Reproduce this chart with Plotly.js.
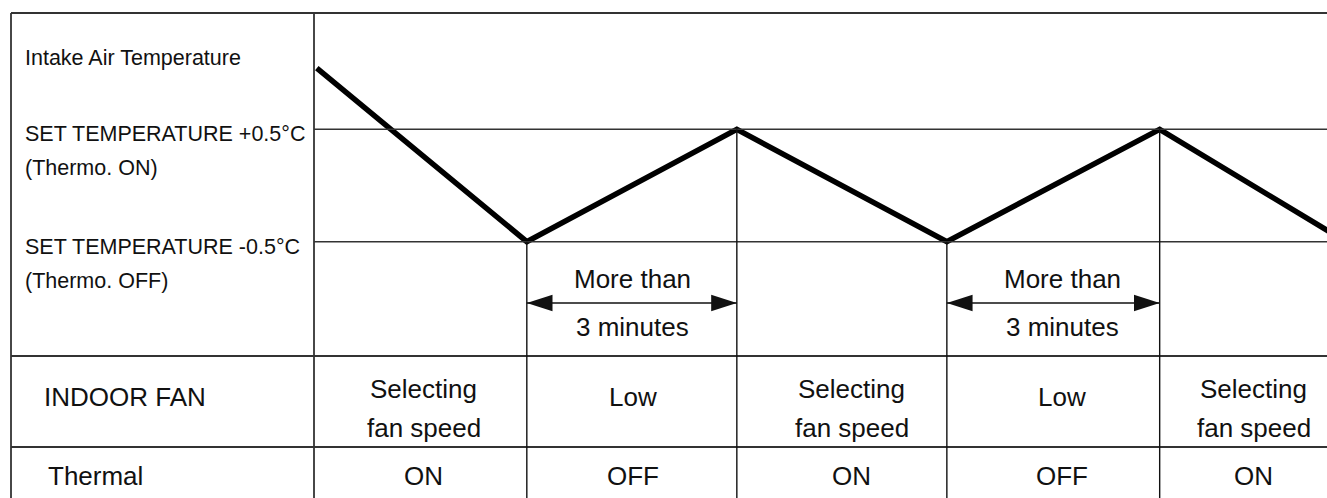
<!DOCTYPE html>
<html>
<head>
<meta charset="utf-8">
<script src="https://cdn.plot.ly/plotly-3.0.1.min.js"></script>
<style>
  html, body { margin: 0; padding: 0; background: #fff; }
  #chart { width: 1327px; height: 498px; }
</style>
</head>
<body>
<div id="chart"></div>
<script>
// phase boundaries (minutes) and intake air temperature relative to set point (°C)
const phaseTimes = [0, 3, 6, 9, 12.04, 14.7];
const intakeTemps = [1.045, -0.5, 0.5, -0.5, 0.5, -0.5];

const thresholdValues = [0.5, -0.5];
const thresholdLabels = ['SET TEMPERATURE +0.5°C', 'SET TEMPERATURE -0.5°C'];
const thresholdNotes = ['(Thermo. ON)', '(Thermo. OFF)'];
const axisLabel = 'Intake Air Temperature';

const rowLabels = ['INDOOR FAN', 'Thermal'];
const fanModes = ['Selecting<br>fan speed', 'Low', 'Selecting<br>fan speed', 'Low', 'Selecting<br>fan speed'];
const thermalStates = ['ON', 'OFF', 'ON', 'OFF', 'ON'];
const minOffText = ['More than', '3 minutes'];

// layout helpers (pixel positions of the drawing)
const W = 1327, H = 498;
const pxPerDeg = 112.4;
const yTop = 0.5 + 129.3 / pxPerDeg;
const yBottom = yTop - H / pxPerDeg;
const pxToY = px => yTop - px / pxPerDeg;
const py = px => 1 - px / H;
const px = v => v / W;
const labelNudge = [2, 1, 10, 9, 1];

const ink = '#111';
const frame = '#333';
const leftFont = { family: 'Liberation Sans, Arial, sans-serif', size: 21.5, color: ink };
const cellFont = { family: 'Liberation Sans, Arial, sans-serif', size: 26, color: ink };

const traces = [{
  x: phaseTimes,
  y: intakeTemps,
  mode: 'lines',
  line: { color: '#000', width: 5.5 },
  hoverinfo: 'skip'
}];

const annotations = [];
const shapes = [];

// frame of the diagram
const hline = (y, x0, x1, w) => ({ type: 'line', xref: 'paper', yref: 'paper',
  x0: px(x0), x1: px(x1), y0: py(y), y1: py(y), line: { color: frame, width: w } });
const vline = (x, y0, y1, w) => ({ type: 'line', xref: 'paper', yref: 'paper',
  x0: px(x), x1: px(x), y0: py(y0), y1: py(y1), line: { color: frame, width: w } });
shapes.push(hline(13, 11, W, 1.8), hline(356, 11, W, 1.8), hline(447, 11, W, 1.8));
shapes.push(vline(11, 13, H, 1.8), vline(314, 13, H, 1.8));

// thresholds
thresholdValues.forEach((v, i) => {
  shapes.push({ type: 'line', xref: 'x domain', yref: 'y', x0: 0, x1: 1, y0: v, y1: v,
    line: { color: frame, width: 1.5 } });
  annotations.push({ xref: 'paper', yref: 'y', x: px(23), y: v, yshift: -5,
    xanchor: 'left', yanchor: 'middle', text: thresholdLabels[i], showarrow: false, font: leftFont });
  annotations.push({ xref: 'paper', yref: 'y', x: px(23), y: v, yshift: -39,
    xanchor: 'left', yanchor: 'middle', text: thresholdNotes[i], showarrow: false, font: leftFont });
});
annotations.push({ xref: 'paper', yref: 'paper', x: px(23), y: py(58), xanchor: 'left',
  yanchor: 'middle', text: axisLabel, showarrow: false, font: leftFont });

// phase boundaries down through the table
phaseTimes.slice(1, -1).forEach((t, i) => {
  shapes.push({ type: 'line', xref: 'x', yref: 'y', x0: t, x1: t, y0: intakeTemps[i + 1], y1: yBottom,
    line: { color: ink, width: 1.4 } });
});

// table rows
annotations.push({ xref: 'paper', yref: 'paper', x: px(42), y: py(397), xanchor: 'left',
  yanchor: 'middle', text: rowLabels[0], showarrow: false, font: cellFont });
annotations.push({ xref: 'paper', yref: 'paper', x: px(46), y: py(476), xanchor: 'left',
  yanchor: 'middle', text: rowLabels[1], showarrow: false, font: cellFont });

const arrowY = pxToY(303);
fanModes.forEach((mode, i) => {
  const mid = (phaseTimes[i] + phaseTimes[i + 1]) / 2;
  const lines = mode.split('<br>');
  lines.forEach((ln, j) => {
    const yPx = lines.length === 1 ? 397 : 389 + j * 39;
    annotations.push({ xref: 'x', yref: 'paper', x: mid, xshift: labelNudge[i], y: py(yPx),
      xanchor: 'center', yanchor: 'middle', text: ln, showarrow: false, font: cellFont });
  });
  annotations.push({ xref: 'x', yref: 'paper', x: mid, xshift: labelNudge[i], y: py(476),
    xanchor: 'center', yanchor: 'middle', text: thermalStates[i], showarrow: false, font: cellFont });

  if (thermalStates[i] === 'OFF') {
    annotations.push({ xref: 'x', yref: 'paper', x: mid, xshift: labelNudge[i], y: py(279),
      xanchor: 'center', yanchor: 'middle', text: minOffText[0], showarrow: false, font: cellFont });
    annotations.push({ xref: 'x', yref: 'paper', x: mid, xshift: labelNudge[i], y: py(327),
      xanchor: 'center', yanchor: 'middle', text: minOffText[1], showarrow: false, font: cellFont });
    traces.push({
      x: [phaseTimes[i], phaseTimes[i + 1]],
      y: [arrowY, arrowY],
      mode: 'lines+markers',
      line: { color: ink, width: 1.4 },
      marker: { symbol: 'arrow', angle: [-90, 90], size: 27, color: ink, line: { width: 0 } },
      hoverinfo: 'skip'
    });
  }
});

const axisOff = { showgrid: false, zeroline: false, showticklabels: false, showline: false,
  ticks: '', fixedrange: true };

const layout = {
  width: W,
  height: H,
  margin: { l: 0, r: 0, t: 0, b: 0 },
  paper_bgcolor: '#fff',
  plot_bgcolor: '#fff',
  showlegend: false,
  xaxis: Object.assign({ domain: [314 / W, 1], range: [-0.04, 14.43] }, axisOff),
  yaxis: Object.assign({ domain: [0, 1], range: [yBottom, yTop] }, axisOff),
  shapes: shapes,
  annotations: annotations
};

Plotly.newPlot('chart', traces, layout, { displayModeBar: false, staticPlot: true });
</script>
</body>
</html>
